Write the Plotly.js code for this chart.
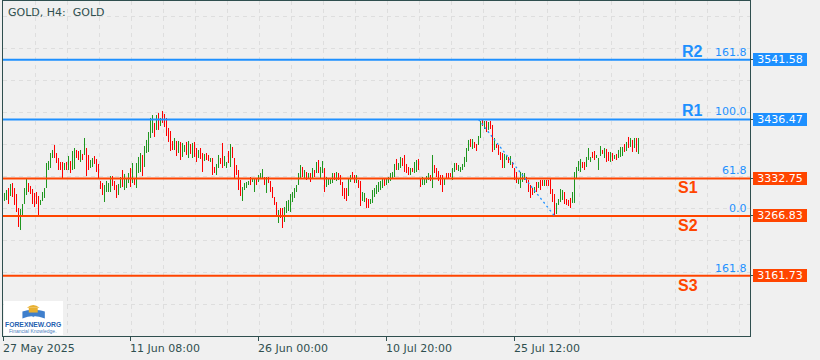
<!DOCTYPE html>
<html><head><meta charset="utf-8">
<script src="https://cdn.plot.ly/plotly-3.0.1.min.js"></script>
<style>html,body{margin:0;padding:0;background:#f0f0f0;}#chart{width:820px;height:360px;}</style>
</head><body><div id="chart"></div>
<script>
// ---- DATA ----
const high = [
3307.2,3312.4,3315.9,3323.0,3324.7,3315.9,3305.4,3280.8,3279.0,3287.8,
3315.9,3331.8,3324.7,3319.5,3314.2,3307.2,3308.9,3301.9,3294.9,3308.9,
3315.9,3359.9,3363.4,3377.5,3382.8,3391.6,3377.5,3368.7,3361.7,3361.7,
3359.9,3361.7,3372.2,3363.4,3381.0,3386.3,3382.8,3381.0,3382.8,3375.8,
3403.9,3386.3,3374.0,3365.2,3368.7,3372.2,3367.0,3358.2,3328.3,3324.7,
3321.2,3328.3,3324.7,3337.0,3337.0,3328.3,3321.2,3323.0,3335.3,3347.6,
3340.6,3333.5,3342.3,3351.1,3359.9,3333.5,3359.9,3370.5,3377.5,3374.0,
3389.8,3400.4,3414.4,3439.1,3444.3,3430.3,3444.3,3447.8,3439.1,3451.4,
3446.1,3439.1,3421.5,3416.2,3398.6,3403.9,3398.6,3398.6,3396.9,3395.1,
3391.6,3396.9,3398.6,3393.3,3395.1,3396.9,3386.3,3382.8,3386.3,3377.5,
3375.8,3377.5,3374.0,3368.7,3368.7,3352.9,3358.2,3374.0,3368.7,3395.1,
3372.2,3361.7,3381.0,3393.3,3388.1,3368.7,3356.4,3347.6,3330.0,3317.7,
3324.7,3326.5,3328.3,3335.3,3331.8,3333.5,3331.8,3338.8,3342.3,3349.3,
3335.3,3335.3,3335.3,3328.3,3317.7,3300.1,3291.3,3277.3,3280.8,3280.8,
3282.5,3293.1,3294.9,3305.4,3308.9,3315.9,3321.2,3342.3,3356.4,3352.9,
3347.6,3344.1,3342.3,3342.3,3351.1,3347.6,3361.7,3365.2,3352.9,3363.4,
3351.1,3335.3,3331.8,3333.5,3342.3,3342.3,3344.1,3342.3,3338.8,3326.5,
3315.9,3315.9,3331.8,3338.8,3344.1,3338.8,3338.8,3330.0,3328.3,3308.9,
3307.2,3298.4,3296.6,3296.6,3312.4,3315.9,3321.2,3326.5,3328.3,3333.5,
3333.5,3331.8,3335.3,3342.3,3344.1,3358.2,3367.0,3359.9,3370.5,3368.7,
3374.0,3358.2,3352.9,3351.1,3351.1,3361.7,3365.2,3367.0,3333.5,3335.3,
3331.8,3337.0,3342.3,3338.8,3374.0,3356.4,3351.1,3345.8,3338.8,3338.8,
3333.5,3342.3,3342.3,3342.3,3351.1,3359.9,3359.9,3356.4,3352.9,3358.2,
3370.5,3386.3,3400.4,3402.1,3402.1,3396.9,3393.3,3407.4,3433.8,3436.5,
3433.8,3433.8,3432.0,3433.8,3426.8,3403.9,3393.3,3391.6,3379.3,3377.5,
3375.8,3372.2,3370.5,3372.2,3361.7,3351.1,3344.1,3333.5,3344.1,3342.3,
3342.3,3335.3,3330.0,3321.2,3315.9,3317.7,3326.5,3326.5,3330.0,3330.0,
3330.0,3330.0,3330.0,3331.8,3314.2,3305.4,3289.6,3296.6,3314.2,3312.4,
3308.9,3296.6,3294.9,3298.4,3308.9,3344.1,3352.9,3363.4,3367.0,3361.7,
3361.7,3370.5,3386.3,3370.5,3379.3,3381.0,3374.0,3368.7,3389.8,3382.8,
3386.3,3384.6,3379.3,3379.3,3377.5,3374.0,3375.8,3382.8,3388.1,3388.1,
3393.3,3396.9,3405.7,3403.9,3400.4,3403.9,3403.9,3403.9];
const low = [
3293.1,3294.9,3287.8,3301.9,3300.1,3286.1,3273.7,3247.4,3242.1,3265.0,
3287.8,3303.6,3308.9,3305.4,3287.8,3282.5,3287.8,3268.5,3286.1,3293.1,
3298.4,3315.9,3347.6,3351.1,3368.7,3368.7,3359.9,3347.6,3347.6,3333.5,
3347.6,3347.6,3347.6,3342.3,3347.6,3349.3,3368.7,3365.2,3361.7,3365.2,
3374.0,3337.0,3347.6,3351.1,3352.9,3358.2,3344.1,3331.8,3314.2,3303.6,
3291.3,3308.9,3308.9,3308.9,3319.5,3312.4,3298.4,3303.6,3315.9,3317.7,
3312.4,3315.9,3324.7,3317.7,3324.7,3321.2,3315.9,3342.3,3344.1,3337.0,
3352.9,3377.5,3379.3,3403.9,3412.7,3405.7,3418.0,3418.0,3425.0,3430.3,
3423.2,3407.4,3396.9,3381.0,3382.8,3382.8,3372.2,3377.5,3365.2,3370.5,
3379.3,3374.0,3368.7,3375.8,3368.7,3370.5,3361.7,3368.7,3367.0,3344.1,
3363.4,3365.2,3363.4,3361.7,3338.8,3342.3,3338.8,3351.1,3358.2,3351.1,
3354.6,3351.1,3359.9,3352.9,3368.7,3333.5,3338.8,3312.4,3301.9,3293.1,
3312.4,3315.9,3321.2,3321.2,3326.5,3308.9,3321.2,3326.5,3331.8,3333.5,
3321.2,3307.2,3324.7,3308.9,3298.4,3286.1,3265.0,3254.4,3263.2,3245.6,
3256.2,3272.0,3275.5,3273.7,3291.3,3298.4,3308.9,3321.2,3331.8,3335.3,
3331.8,3330.0,3333.5,3326.5,3331.8,3335.3,3342.3,3342.3,3331.8,3342.3,
3308.9,3317.7,3321.2,3323.0,3324.7,3330.0,3328.3,3330.0,3321.2,3301.9,
3296.6,3293.1,3301.9,3326.5,3331.8,3324.7,3324.7,3315.9,3284.3,3293.1,
3291.3,3280.8,3280.8,3287.8,3289.6,3300.1,3305.4,3308.9,3312.4,3315.9,
3319.5,3321.2,3324.7,3328.3,3331.8,3335.3,3347.6,3347.6,3351.1,3354.6,
3344.1,3342.3,3338.8,3338.8,3344.1,3342.3,3344.1,3347.6,3317.7,3321.2,
3321.2,3324.7,3330.0,3328.3,3315.9,3342.3,3335.3,3328.3,3321.2,3308.9,
3321.2,3333.5,3333.5,3335.3,3330.0,3344.1,3347.6,3345.8,3344.1,3347.6,
3352.9,3361.7,3381.0,3388.1,3384.6,3386.3,3381.0,3391.6,3403.9,3425.0,
3419.7,3414.4,3418.0,3419.7,3379.3,3382.8,3386.3,3374.0,3365.2,3351.1,
3351.1,3365.2,3359.9,3356.4,3351.1,3330.0,3324.7,3323.0,3315.9,3326.5,
3330.0,3324.7,3308.9,3298.4,3303.6,3307.2,3308.9,3315.9,3312.4,3319.5,
3319.5,3319.5,3319.5,3305.4,3291.3,3266.8,3270.2,3286.1,3291.3,3294.9,
3287.8,3286.1,3284.3,3280.8,3289.6,3289.6,3333.5,3345.8,3344.1,3351.1,
3347.6,3352.9,3365.2,3361.7,3368.7,3365.2,3368.7,3347.6,3372.2,3375.8,
3368.7,3361.7,3363.4,3361.7,3363.4,3367.0,3365.2,3368.7,3370.5,3372.2,
3379.3,3381.0,3386.3,3388.1,3379.3,3386.3,3379.3,3375.8];
// 1 = bullish (green) bar, 0 = bearish (red) bar
const up = [
1,1,0,1,0,0,0,0,1,1, 1,1,0,0,0,0,0,0,1,1, 1,1,1,1,1,0,0,0,0,0, 1,0,1,0,1,1,0,0,1,0,
1,0,0,1,1,0,0,0,0,0, 1,1,1,1,0,0,0,1,1,0, 1,1,1,0,1,0,1,1,1,0, 1,1,1,1,1,0,1,0,1,0,
0,0,0,0,0,1,0,1,0,1, 1,0,1,0,1,0,0,1,0,0, 1,0,0,1,0,0,1,1,0,0, 1,1,0,1,0,0,0,0,0,1,
1,1,1,0,1,1,0,1,1,1, 0,1,0,0,0,0,0,1,0,0, 1,1,1,1,1,1,1,1,1,0, 1,0,1,0,1,0,1,0,1,1,
0,1,1,1,1,0,1,0,0,0, 0,0,1,1,0,0,1,0,0,1, 1,0,0,1,1,1,1,1,1,1, 0,1,1,1,1,1,0,1,1,0,
0,0,0,1,0,1,1,0,0,1, 1,1,1,0,1,0,0,0,0,0, 1,0,0,0,1,1,0,1,1,1, 1,1,1,0,1,0,0,1,1,0,
1,0,1,0,0,1,0,0,0,0, 1,1,0,1,0,0,0,1,1,1, 1,0,0,0,0,1,0,1,0,0, 1,0,0,0,0,0,1,1,1,1,
0,0,0,0,1,1,1,1,1,0, 0,1,1,1,0,0,1,1,1,0, 1,0,0,1,0,1,0,1,1,1, 0,1,0,1,0,1,0,1];
const levelNames  = ['R2','R1','S1','S2','S3'];
const levelValues = [3541.58, 3436.47, 3332.75, 3266.83, 3161.73];
const levelFib    = ['161.8','100.0','61.8','0.0','161.8'];
const fibBars = [237, 275];          // bar index of fib anchors (high -> low)
const tickBars = [-0.5, 63, 127, 191, 255];
const tickText = ['27 May 2025','11 Jun 08:00','26 Jun 00:00','10 Jul 20:00','25 Jul 12:00'];
const chartTitle = 'GOLD, H4:  GOLD';

// ---- STYLE ----
const BLUE = '#1E90FF', ORANGE = '#FF4500', GREEN = '#1f961f', RED = '#ff0000', AXIS = '#2F4F4F';
const X_RANGE = [-0.75, 372.75];
const Y_RANGE = [3055.68, 3644.81];
const isResistance = n => n[0] === 'R';

function barTrace(flag, color){
  const xs = [], ys = [];
  high.forEach((h, i) => {
    if (up[i] === flag) { xs.push(i, i, null); ys.push(low[i], h, null); }
  });
  return {type:'scatter', mode:'lines', x:xs, y:ys, hoverinfo:'skip',
          line:{color:color, width:1}, showlegend:false};
}

const traces = [barTrace(1, GREEN), barTrace(0, RED)];
levelValues.forEach((v, k) => {
  traces.push({type:'scatter', mode:'lines', x:X_RANGE, y:[v, v], showlegend:false,
    hoverinfo:'skip', line:{color: isResistance(levelNames[k]) ? BLUE : ORANGE, width:2}});
});
traces.push({type:'scatter', mode:'lines', x:fibBars, y:[levelValues[1], levelValues[3]],
  showlegend:false, hoverinfo:'skip', line:{color:BLUE, width:1.3, dash:'2px,3px'}});

const ann = [];
ann.push({xref:'paper', yref:'paper', x:0, y:1, xanchor:'left', yanchor:'top', xshift:3, yshift:-3,
  text:chartTitle, showarrow:false, font:{family:'DejaVu Sans', size:11, color:AXIS}});
levelValues.forEach((v, k) => {
  const res = isResistance(levelNames[k]);
  const col = res ? BLUE : ORANGE;
  ann.push({xref:'paper', yref:'y', x:1, y:v, xanchor:'left', yanchor:'middle', xshift:3,
    text:v.toFixed(2), showarrow:false, bgcolor:col, borderpad:1, borderwidth:0,
    width:52, height:11, align:'center', font:{family:'DejaVu Sans', size:11, color:'#ffffff'}});
  ann.push({xref:'paper', yref:'y', x:1, y:v, xanchor:'right', yanchor: res ? 'bottom' : 'top',
    xshift: res ? -45 : -50, yshift: res ? -2 : 1, text:'<b>' + levelNames[k] + '</b>', showarrow:false,
    font:{family:'Liberation Sans', size:16, color:col}});
  ann.push({xref:'paper', yref:'y', x:1, y:v, xanchor:'right', yanchor:'bottom', xshift:-1, yshift:-1,
    text:levelFib[k], showarrow:false, font:{family:'DejaVu Sans', size:11, color:BLUE}});
});
tickBars.forEach((t, k) => {
  ann.push({xref:'x', yref:'paper', x:t, y:0, xanchor:'left', yanchor:'top', xshift:-3, yshift:-4,
    text:tickText[k], showarrow:false, font:{family:'DejaVu Sans', size:11, color:AXIS}});
});
// logo
ann.push({xref:'paper', yref:'paper', x:0.0408, y:0.0355, xanchor:'center', yanchor:'middle',
  text:'<b>FOREXNEW.ORG</b>', showarrow:false, font:{family:'Liberation Sans', size:6.8, color:'#1f5fb0'}});
ann.push({xref:'paper', yref:'paper', x:0.0408, y:0.0135, xanchor:'center', yanchor:'middle',
  text:'Financial Knowledge.', showarrow:false, font:{family:'Liberation Sans', size:5, color:'#4d7fc0'}});

const shapes = [
  {type:'rect', xref:'paper', yref:'paper', x0:0.0013, x1:0.0803, y0:0.003, y1:0.1045,
   fillcolor:'#ffffff', line:{width:0}, layer:'above'},
  {type:'path', xref:'paper', yref:'paper', layer:'above',
   path:'M 0.0260,0.0520 Q 0.0400,0.0640 0.0404,0.0560 Q 0.0410,0.0640 0.0560,0.0520 L 0.0560,0.0730 Q 0.0410,0.0810 0.0404,0.0740 Q 0.0400,0.0810 0.0260,0.0730 Z',
   fillcolor:'#3f7fcc', line:{width:0}},
  {type:'rect', xref:'paper', yref:'paper', x0:0.0345, x1:0.0465, y0:0.0700, y1:0.0840,
   fillcolor:'#e8b030', line:{width:0}, layer:'above'},
  {type:'path', xref:'paper', yref:'paper', layer:'above',
   path:'M 0.0320,0.0840 Q 0.0405,0.1010 0.0490,0.0840 Z', fillcolor:'#e8b030', line:{width:0}}
];

const layout = {
  width:820, height:360,
  margin:{l:3, r:70, t:1, b:24, pad:0},
  paper_bgcolor:'#f0f0f0', plot_bgcolor:'#f0f0f0',
  showlegend:false,
  xaxis:{range:X_RANGE, showgrid:false, zeroline:false, showline:true, mirror:true,
    linecolor:AXIS, linewidth:1, tickmode:'array', tickvals:tickBars, ticktext:tickBars.map(()=>''),
    ticks:'outside', ticklen:4, tickcolor:AXIS, fixedrange:true,
    minor:{tickmode:'linear', tick0:-0.5, dtick:16, showgrid:true, gridcolor:'#dedede',
      griddash:'4px,4px', gridwidth:1, ticks:''}},
  yaxis:{range:Y_RANGE, side:'right', showgrid:false, zeroline:false, showline:true, mirror:true,
    linecolor:AXIS, linewidth:1, tickmode:'array', tickvals:levelValues, showticklabels:false,
    ticks:'outside', ticklen:3, tickcolor:AXIS, fixedrange:true,
    minor:{tickmode:'linear', tick0:3111.96, dtick:56.275, showgrid:true, gridcolor:'#dedede',
      griddash:'4px,4px', gridwidth:1, ticks:''}},
  annotations:ann, shapes:shapes
};
Plotly.newPlot('chart', traces, layout, {displayModeBar:false, staticPlot:true});
</script></body></html>
